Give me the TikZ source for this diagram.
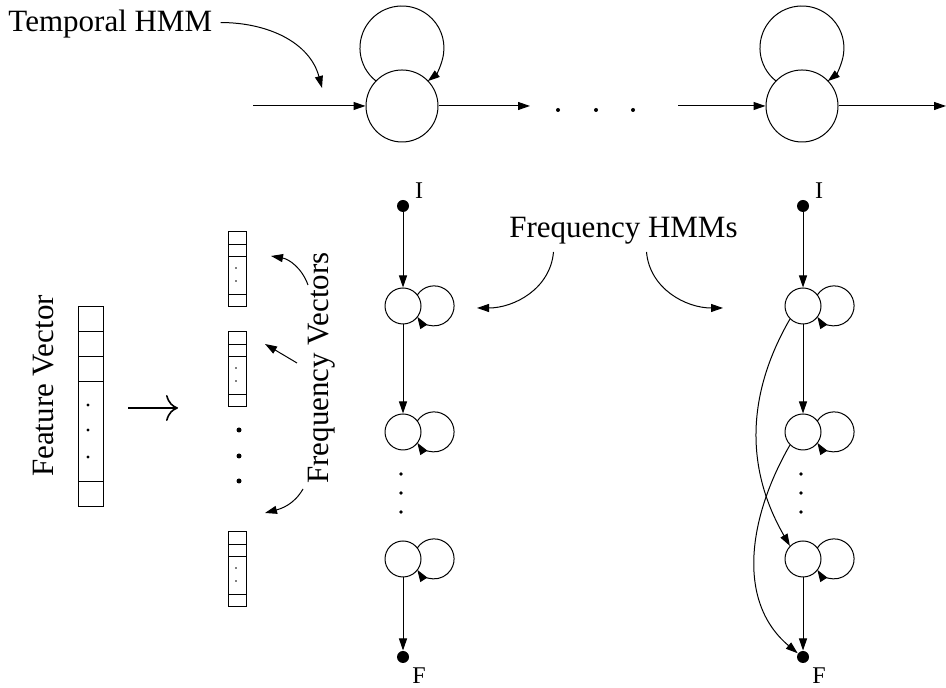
\documentclass[tikz,border=0pt]{standalone}
\usepackage{fontspec}
\setmainfont{Liberation Serif}
\usetikzlibrary{positioning, calc, arrows.meta}

\begin{document}
\begin{tikzpicture}[
    x=0.5pt, y=0.5pt,
    line width=0.5pt,
    arr/.style={
      -{Triangle[length=6pt,width=4pt]}
    },
    lbl/.style={
      font=\fontsize{15.5}{18}\selectfont,
      inner sep=0
    },
    smalllbl/.style={
      font=\fontsize{12}{14}\selectfont,
      inner sep=0
    },
    bigstate/.style={
      draw, circle, minimum size=36pt, inner sep=0
    },
    hmmstate/.style={
      draw, circle, minimum size=18pt, inner sep=0
    },
    endpt/.style={
      fill, circle, minimum size=6pt, inner sep=0
    }
  ]
  \useasboundingbox (0,0) rectangle (946,688);

  \node[lbl, anchor=base west] (tlab) at (8,656) {Temporal HMM};
  \node[bigstate] (t1) at (402,582) {};
  \node[bigstate] (t2) at (802,582) {};
  \coordinate (tin) at (253,582);
  \coordinate (tmid) at (530,582);
  \coordinate (tin2) at (678,582);
  \coordinate (tout) at (946,582);
  \coordinate (tpt) at (322,600);
  \draw[arr] ([shift={(8,2)}]tlab.east) to[out=0,in=105] (tpt);
  \draw[arr] (tin) -- (t1);
  \draw[arr] (t1) -- (tmid);
  \draw[arr] (tin2) -- (t2);
  \draw[arr] (t2) -- (tout);
  \foreach \x in {558,596,633}
    \fill (\x,578) circle (2);
  \foreach \n in {t1,t2}
    \draw[arr] ([shift={(-25.9,24.9)}]\n.center) arc[start angle=232, end angle=-52, radius=42];

  \node[lbl, rotate=90, anchor=base] (fvlab) at (53,302) {Feature Vector};
  \draw (78,181) rectangle (103,381);
  \foreach \y in {356,331,306,206}
    \draw (78,\y) -- (103,\y);
  \foreach \y in {283,258,231}
    \fill (88,\y) circle (1.6);

  \coordinate (fa) at (128,280);
  \coordinate (fb) at (178,280);
  \draw[line width=0.8pt, -{Computer Modern Rightarrow[length=6pt,width=13pt]}] (fa) -- (fb);

  \foreach \t in {456,356,156} {
    \draw (228,\t) rectangle (246.5,\t-75);
    \foreach \d in {12.5,25,62.5}
      \draw (228,\t-\d) -- (246.5,\t-\d);
    \fill (236,\t-36) circle (0.8) (236,\t-49) circle (0.8);
  }
  \foreach \y in {258,232,207}
    \fill (239,\y) circle (2.5);

  \node[lbl, rotate=90, anchor=base] (fvec) at (328,320) {Frequency Vectors};
  \coordinate (fvtip1) at (271,432);
  \coordinate (fvtip2) at (265,344);
  \coordinate (fvtip3) at (265,175);
  \draw[arr] ([shift={(-20,83)}]fvec.base) to[out=110,in=-10] (fvtip1);
  \draw[arr] ([shift={(-31,5)}]fvec.base) -- (fvtip2);
  \draw[arr] ([shift={(-25,-121)}]fvec.base) to[out=240,in=15] (fvtip3);

  \node[lbl, anchor=base] (hlab) at (623.5,450) {Frequency HMMs};
  \coordinate (hm1) at (477,380);
  \coordinate (hm2) at (723,380);
  \draw[arr] ([shift={(-70,-14)}]hlab.base) to[out=265,in=0] (hm1);
  \draw[arr] ([shift={(23,-14)}]hlab.base) to[out=275,in=180] (hm2);

  \foreach \c/\x in {a/403,b/803} {
    \node[endpt] (i\c) at (\x,482) {};
    \node[hmmstate] (s\c1) at (\x,382) {};
    \node[hmmstate] (s\c2) at (\x,256) {};
    \node[hmmstate] (s\c3) at (\x,129) {};
    \node[endpt] (f\c) at (\x,31) {};
    \node[smalllbl, anchor=base] (il\c) at (\x+16,489) {I};
    \node[smalllbl, anchor=base] (fl\c) at (\x+16,4) {F};
    \draw[arr] (i\c) -- (s\c1);
    \draw[arr] (s\c1) -- (s\c2);
    \draw[arr] (s\c3) -- (f\c);
    \foreach \y in {214,195,176}
      \fill (\x-2,\y) circle (1.8);
    \foreach \s in {1,2,3}
      \draw[arr] ([shift={(14.3,11)}]s\c\s.center) arc[start angle=147, end angle=-147, radius=20];
  }
  \draw[arr] (sb1.225) to[out=240,in=120] (sb3.135);
  \draw[arr] (sb2.225) to[out=240,in=140] (fb.145);
\end{tikzpicture}
\end{document}
